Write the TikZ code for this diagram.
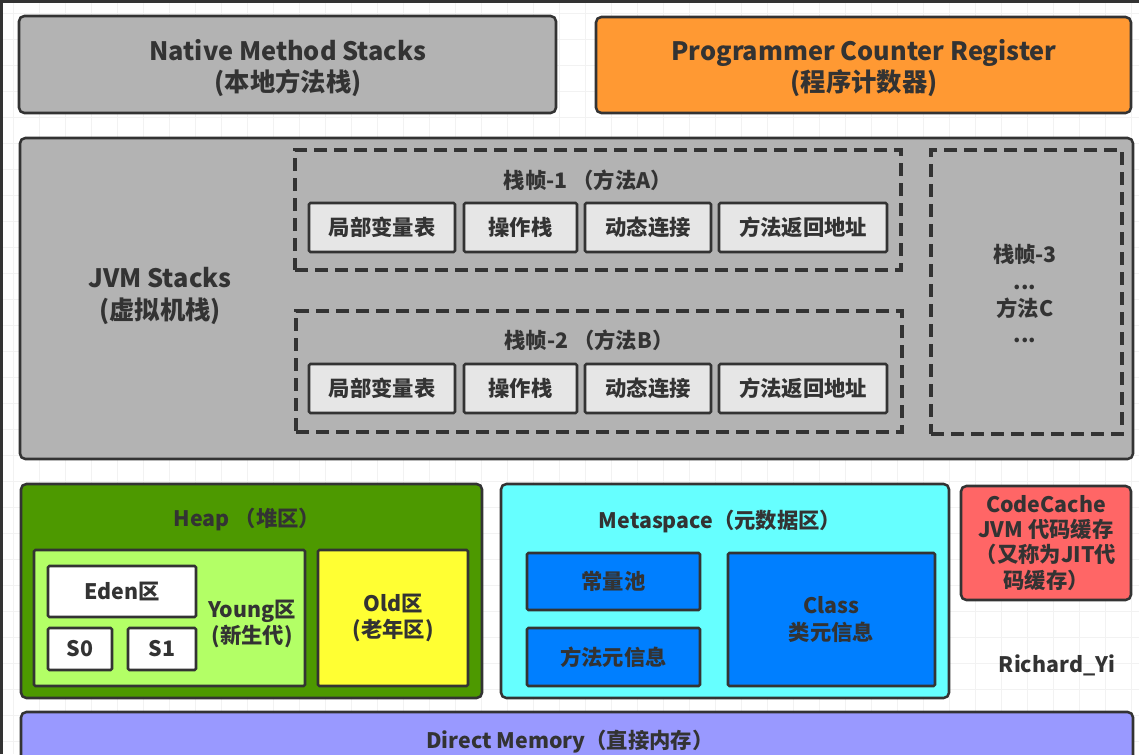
\documentclass[tikz,border=0pt]{standalone}
\usepackage{fontspec}
\setmainfont{Noto Sans CJK SC}
\usepackage{tikz}

\definecolor{ink}{HTML}{333333}
\definecolor{stackgray}{HTML}{B3B3B3}
\definecolor{cellgray}{HTML}{E6E6E6}
\definecolor{pcorange}{HTML}{FF9933}
\definecolor{heapgreen}{HTML}{4D9900}
\definecolor{younggreen}{HTML}{B3FF66}
\definecolor{oldyellow}{HTML}{FFFF33}
\definecolor{metacyan}{HTML}{66FFFF}
\definecolor{metablue}{HTML}{007FFF}
\definecolor{codered}{HTML}{FF6666}
\definecolor{directblue}{HTML}{9999FF}

\begin{document}
\begin{tikzpicture}[
  x=0.75pt, y=-0.75pt,
  boxw/.style={minimum width=#1*0.75pt},
  boxh/.style={minimum height=#1*0.75pt},
  area/.style={draw=ink,line width=1.9pt,rounded corners=4pt,inner sep=0pt},
  cell/.style={draw=ink,line width=1.9pt,rounded corners=1pt,inner sep=0pt},
  frame/.style={draw=ink,line width=2.5pt,dash pattern=on 10pt off 5pt,inner sep=0pt},
  gridline/.style={draw=gray!10,line width=0.5pt},
  title/.style={text=ink,font=\bfseries\fontsize{19}{23.5}\selectfont,align=center},
  lbl/.style={text=ink,font=\bfseries\fontsize{16}{19.5}\selectfont,align=center}
]
  \useasboundingbox (0,0) rectangle (1139,754);
  \fill[white] (0,0) rectangle (1139,754);
  \foreach \gx in {13,39,...,1139} \draw[gridline] (\gx,0) -- (\gx,754);
  \foreach \gy in {13,39,...,754} \draw[gridline] (0,\gy) -- (1139,\gy);
  \fill[ink] (0,0) rectangle (1139,3);
  \fill[ink] (0,0) rectangle (3,754);

  % top row
  \node[area,fill=stackgray,boxw=537,boxh=97] (native) at (287.5,64.5) {};
  \node[title] (nativelbl) at (288,68) {Native Method Stacks\\(本地方法栈)};
  \node[area,fill=pcorange,boxw=535,boxh=96] (pcr) at (863.5,65) {};
  \node[title] (pcrlbl) at (864,68) {Programmer Counter Register\\(程序计数器)};

  % jvm stacks
  \node[area,fill=stackgray,boxw=1113,boxh=321] (jvm) at (576.5,298.5) {};
  \node[title] (jvmlbl) at (160,296) {JVM Stacks\\(虚拟机栈)};

  \node[frame,boxw=606,boxh=120] (frameA) at (598,210) {};
  \node[lbl] (frameAlbl) at (588,180) {栈帧-1 （方法A）};
  \node[cell,fill=cellgray,boxw=146,boxh=49] (localsA) at (382,227.5) {};
  \node[cell,fill=cellgray,boxw=113,boxh=49] (opA) at (520.5,227.5) {};
  \node[cell,fill=cellgray,boxw=126,boxh=49] (linkA) at (648,227.5) {};
  \node[cell,fill=cellgray,boxw=168,boxh=49] (retA) at (803,227.5) {};
  \node[lbl] at (localsA) {局部变量表};
  \node[lbl] at (opA) {操作栈};
  \node[lbl] at (linkA) {动态连接};
  \node[lbl] at (retA) {方法返回地址};

  \node[frame,boxw=606,boxh=121] (frameB) at (599,371.5) {};
  \node[lbl] (frameBlbl) at (589,340) {栈帧-2 （方法B）};
  \node[cell,fill=cellgray,boxw=146,boxh=49] (localsB) at (382,388.5) {};
  \node[cell,fill=cellgray,boxw=113,boxh=49] (opB) at (520.5,388.5) {};
  \node[cell,fill=cellgray,boxw=126,boxh=49] (linkB) at (648,388.5) {};
  \node[cell,fill=cellgray,boxw=168,boxh=49] (retB) at (803,388.5) {};
  \node[lbl] at (localsB) {局部变量表};
  \node[lbl] at (opB) {操作栈};
  \node[lbl] at (linkB) {动态连接};
  \node[lbl] at (retB) {方法返回地址};

  \node[frame,boxw=191,boxh=284] (frameC) at (1026.5,292) {};
  \node[lbl,font=\bfseries\fontsize{16}{20}\selectfont] (frameClbl) at (1025,294) {栈帧-3\\...\\方法C\\...};

  % heap
  \node[area,fill=heapgreen,boxw=461,boxh=214] (heap) at (251.5,591) {};
  \node[lbl] (heaplbl) at (247,519) {Heap （堆区）};
  \node[cell,fill=younggreen,boxw=271,boxh=136] (young) at (169.5,618) {};
  \node[cell,fill=white,boxw=148,boxh=51] (eden) at (122,591.5) {};
  \node[cell,fill=white,boxw=64,boxh=42] (s0) at (80,649) {};
  \node[cell,fill=white,boxw=68,boxh=42] (s1) at (162,649) {};
  \node[lbl] at (eden) {Eden区};
  \node[lbl] at (s0) {S0};
  \node[lbl] at (s1) {S1};
  \node[lbl] (younglbl) at (252,624) {Young区\\(新生代)};
  \node[cell,fill=oldyellow,boxw=150,boxh=136] (old) at (393,618) {};
  \node[lbl] (oldlbl) at (old) {Old区\\(老年区)};

  % metaspace
  \node[area,fill=metacyan,boxw=448,boxh=214] (meta) at (725,591) {};
  \node[lbl] (metalbl) at (720,521) {Metaspace（元数据区）};
  \node[cell,fill=metablue,boxw=173,boxh=57] (pool) at (613.5,581.5) {};
  \node[cell,fill=metablue,boxw=173,boxh=58] (mmeta) at (613.5,657) {};
  \node[cell,fill=metablue,boxw=207,boxh=133] (cls) at (831.5,619.5) {};
  \node[lbl] at (pool) {常量池};
  \node[lbl] at (mmeta) {方法元信息};
  \node[lbl,font=\bfseries\fontsize{16}{20}\selectfont] at (cls) {Class\\类元信息};

  % code cache
  \node[area,fill=codered,boxw=170,boxh=114] (code) at (1046,543) {};
  \node[lbl,font=\bfseries\fontsize{16}{18.8}\selectfont] (codelbl) at (code) {CodeCache\\JVM 代码缓存\\（又称为JIT代\\码缓存）};
  \node[lbl] (author) at (1057,665) {Richard\_Yi};

  % direct memory
  \node[area,fill=directblue,boxw=1112,boxh=60] (direct) at (577,742) {};
  \node[lbl] (directlbl) at (570,742) {Direct Memory（直接内存）};
\end{tikzpicture}
\end{document}
